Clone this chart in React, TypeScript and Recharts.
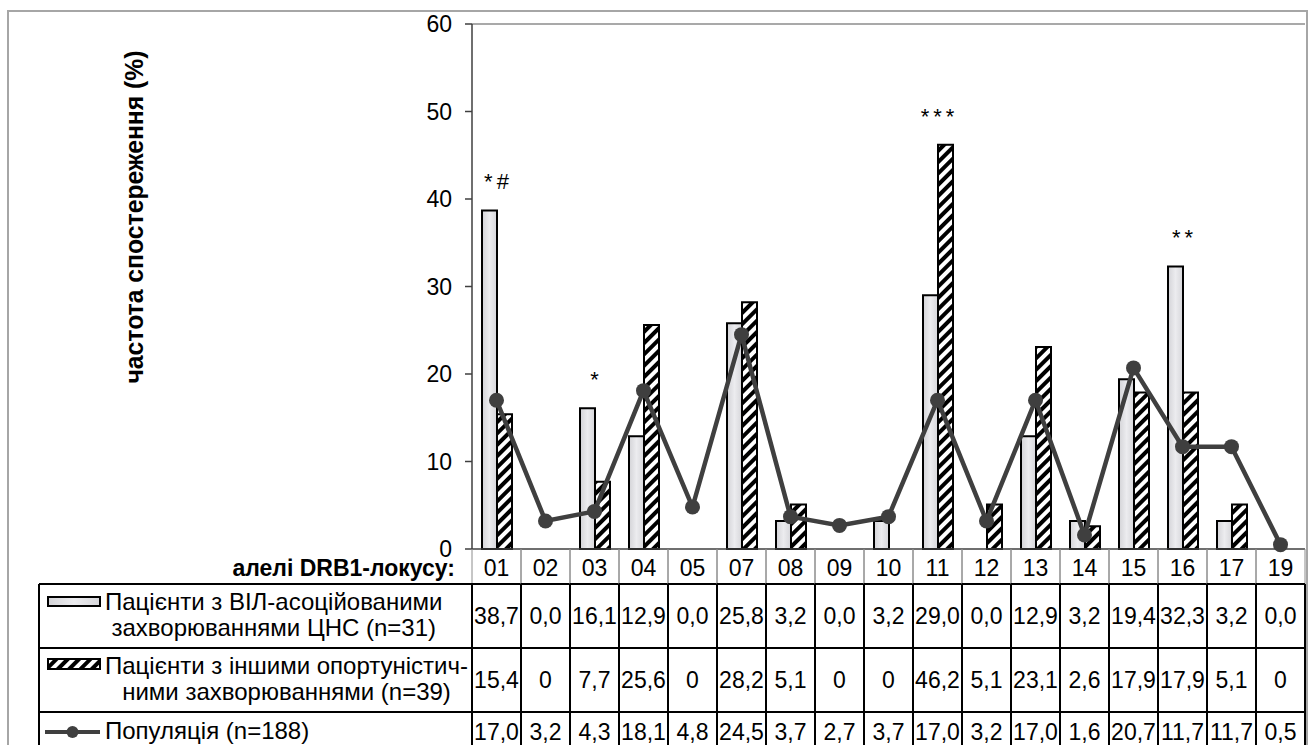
import { Bar, ComposedChart, LabelList, Line, ReferenceLine, XAxis, YAxis } from "recharts";

const alleles = ["01", "02", "03", "04", "05", "07", "08", "09", "10", "11", "12", "13", "14", "15", "16", "17", "19"];
const vilCns = [38.7, 0, 16.1, 12.9, 0, 25.8, 3.2, 0, 3.2, 29.0, 0, 12.9, 3.2, 19.4, 32.3, 3.2, 0];
const otherOi = [15.4, 0, 7.7, 25.6, 0, 28.2, 5.1, 0, 0, 46.2, 5.1, 23.1, 2.6, 17.9, 17.9, 5.1, 0];
const population = [17.0, 3.2, 4.3, 18.1, 4.8, 24.5, 3.7, 2.7, 3.7, 17.0, 3.2, 17.0, 1.6, 20.7, 11.7, 11.7, 0.5];
const marks = ["*#", "", "*", "", "", "", "", "", "", "***", "", "", "", "", "**", "", ""];
const yTicks = [0, 10, 20, 30, 40, 50, 60];

const seriesLines = [
  ["Пацієнти з ВІЛ-асоційованими", "захворюваннями ЦНС (n=31)"],
  ["Пацієнти з іншими опортуністич-", "ними захворюваннями (n=39)"],
  ["Популяція (n=188)"],
];
const yTitle = "частота спостереження (%)";
const xTitle = "алелі DRB1-локусу:";

const fmt = (v: number) => v.toFixed(1).replace(".", ",");
const rowTexts = [vilCns.map(fmt), otherOi.map((v) => (v === 0 ? "0" : fmt(v))), population.map(fmt)];

const data = alleles.map((allele, i) => ({
  allele,
  vil: vilCns[i],
  other: otherOi[i],
  pop: population[i],
  peak: Math.max(vilCns[i], otherOi[i]),
  mark: marks[i],
}));

const W = 1312;
const H = 745;
const M = { top: 24, right: 7, left: 412, bottom: 0 };
const Y_AXIS_W = 60;
const PLOT_LEFT = M.left + Y_AXIS_W;
const PLOT_W = W - PLOT_LEFT - M.right;
const BAND = PLOT_W / alleles.length;
const HEADER_H = 35;
const ROW_H = [64, 64, 40];
const ROW_TEXT = [32, 32, 20];
const FONT = '"Liberation Sans", Arial, sans-serif';
const DARK = "#3f3f3f";

function AlleleTick(props: any) {
  const { x, y, payload } = props;
  const i = payload.index;
  const left = x - BAND / 2;
  const right = x + BAND / 2;
  let top = y + HEADER_H;
  return (
    <g fontFamily={FONT}>
      <line x1={left} y1={y} x2={left} y2={y + HEADER_H} stroke="#8c8c8c" strokeWidth={1} />
      <line x1={right} y1={y} x2={right} y2={y + HEADER_H} stroke="#8c8c8c" strokeWidth={1} />
      <text x={x} y={y + HEADER_H / 2 + 1} textAnchor="middle" dominantBaseline="central" fontSize={23} fill="#000">
        {payload.value}
      </text>
      {rowTexts.map((row, r) => {
        const t = top;
        top += ROW_H[r];
        return (
          <g key={r}>
            <line x1={left} y1={t} x2={right} y2={t} stroke="#000" strokeWidth={2} />
            <line x1={left} y1={t} x2={left} y2={t + ROW_H[r]} stroke="#000" strokeWidth={2} />
            <line x1={right} y1={t} x2={right} y2={t + ROW_H[r]} stroke="#000" strokeWidth={2} />
            <text x={x} y={t + ROW_TEXT[r]} textAnchor="middle" dominantBaseline="central" fontSize={23} fill="#000">
              {row[i]}
            </text>
          </g>
        );
      })}
    </g>
  );
}

function MarkLabel(props: any) {
  const { x, y, value } = props;
  if (!value) return null;
  return (
    <text x={x + 2} y={y - 21} textAnchor="middle" fontSize={22} fontFamily={FONT} letterSpacing={4} fill="#000">
      {value}
    </text>
  );
}

function Overlay() {
  const rowTops = [584, 648, 712];
  const textTops = [589, 653, 718];
  return (
    <>
      <svg width={W} height={H} style={{ position: "absolute", left: 0, top: 0, pointerEvents: "none" }}>
        <defs>
          <pattern id="hatchKey" patternUnits="userSpaceOnUse" width={8} height={8} patternTransform="rotate(45)">
            <rect width={8} height={8} fill="#fff" />
            <rect width={4} height={8} fill="#000" />
          </pattern>
          <linearGradient id="marbleKey" x1="0" y1="0" x2="1" y2="0">
            <stop offset="0" stopColor="#d3d3d7" />
            <stop offset="0.5" stopColor="#ececef" />
            <stop offset="1" stopColor="#d6d6da" />
          </linearGradient>
        </defs>
        <rect x={8} y={11} width={1299} height={780} fill="none" stroke="#a6a6a6" strokeWidth={2} />
        <text
          transform="translate(134 217) rotate(-90)"
          textAnchor="middle"
          dominantBaseline="central"
          fontSize={25}
          fontWeight="bold"
          fontFamily={FONT}
          textLength={333}
          lengthAdjust="spacingAndGlyphs"
        >
          {yTitle}
        </text>
        <text x={455} y={568} textAnchor="end" dominantBaseline="central" fontSize={23} fontWeight="bold" fontFamily={FONT}>
          {xTitle}
        </text>
        {rowTops.map((t, r) => (
          <g key={r}>
            <line x1={39} y1={t} x2={PLOT_LEFT} y2={t} stroke="#000" strokeWidth={2} />
            <line x1={39} y1={t} x2={39} y2={t + 70} stroke="#000" strokeWidth={2} />
          </g>
        ))}
        <rect x={48} y={597} width={52} height={9} fill="url(#marbleKey)" stroke="#000" strokeWidth={2} />
        <rect x={48} y={659} width={52} height={10} fill="url(#hatchKey)" stroke="#000" strokeWidth={2} />
        <line x1={45} y1={732} x2={100} y2={732} stroke={DARK} strokeWidth={4} />
        <circle cx={72.5} cy={732} r={6} fill={DARK} />
      </svg>
      {seriesLines.map((lines, r) => (
        <div
          key={r}
          style={{
            position: "absolute",
            left: 105,
            top: textTops[r],
            fontFamily: FONT,
            fontSize: 24,
            lineHeight: "26px",
            textAlign: "center",
            whiteSpace: "nowrap",
            color: "#000",
          }}
        >
          {lines.map((s, k) => (
            <div key={k}>{s}</div>
          ))}
        </div>
      ))}
    </>
  );
}

export default function App() {
  return (
    <div style={{ position: "absolute", left: 0, top: 0, width: W, height: H, overflow: "hidden", background: "#fff" }}>
      <ComposedChart width={W} height={H} data={data} margin={M} barCategoryGap={10} barGap={0}>
        <defs>
          <pattern id="hatch" patternUnits="userSpaceOnUse" width={8} height={8} patternTransform="rotate(45)">
            <rect width={8} height={8} fill="#fff" />
            <rect width={4} height={8} fill="#000" />
          </pattern>
          <linearGradient id="marble" x1="0" y1="0" x2="1" y2="0">
            <stop offset="0" stopColor="#d3d3d7" />
            <stop offset="0.5" stopColor="#ececef" />
            <stop offset="1" stopColor="#d6d6da" />
          </linearGradient>
        </defs>
        <XAxis
          dataKey="allele"
          height={196}
          interval={0}
          tickSize={0}
          tickMargin={0}
          tickLine={false}
          axisLine={{ stroke: DARK, strokeWidth: 1.5 }}
          tick={<AlleleTick />}
        />
        <YAxis
          domain={[0, 60]}
          ticks={yTicks}
          width={Y_AXIS_W}
          tickSize={7}
          tickMargin={13}
          axisLine={{ stroke: DARK, strokeWidth: 1.5 }}
          tickLine={{ stroke: DARK, strokeWidth: 1.5 }}
          tick={{ fontSize: 23, fill: "#000", fontFamily: FONT }}
        />
        <ReferenceLine y={60} stroke="#8c8c8c" strokeWidth={1.5} />
        <Bar dataKey="vil" fill="url(#marble)" stroke="#000" strokeWidth={2} isAnimationActive={false} />
        <Bar dataKey="other" fill="url(#hatch)" stroke="#000" strokeWidth={2} isAnimationActive={false} />
        <Line
          dataKey="pop"
          type="linear"
          stroke={DARK}
          strokeWidth={4.5}
          dot={{ r: 7.5, fill: DARK, stroke: DARK, strokeWidth: 0 }}
          activeDot={false}
          isAnimationActive={false}
        />
        <Line dataKey="peak" stroke="none" dot={false} activeDot={false} isAnimationActive={false}>
          <LabelList dataKey="mark" content={<MarkLabel />} />
        </Line>
      </ComposedChart>
      <Overlay />
    </div>
  );
}
